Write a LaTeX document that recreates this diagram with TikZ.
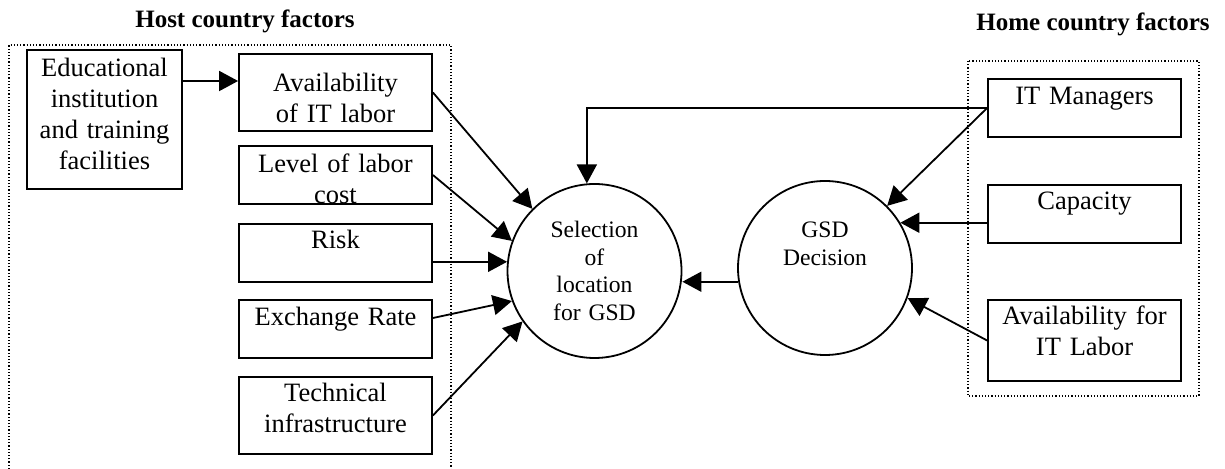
\documentclass[tikz,border=0pt]{standalone}
\usepackage{fontspec}
\setmainfont{Liberation Serif}
\usetikzlibrary{arrows.meta}
\begin{document}
\begin{tikzpicture}[x=0.5pt,y=-0.5pt,->,>={Triangle[length=9.5pt,width=10pt]},line width=0.9pt,
    factor node/.style={rectangle,draw,font=\fontsize{13.25}{15.5}\selectfont,text width=92.5pt,align=center,inner sep=2pt},
    decision node/.style={circle,draw,minimum size=87pt,inner sep=0pt,font=\fontsize{11.8}{13.8}\selectfont,text width=62pt,align=center},
    title node/.style={font=\fontsize{12.5}{15}\selectfont\bfseries},
    frame/.style={-,densely dotted,line width=0.6pt}]
    \useasboundingbox (0,0) rectangle (1225,469);
    \node[title node] (host) at (245,21) {Host country factors};
    \node[title node] (home) at (1093,24) {Home country factors};
    \draw[frame] (9,469) -- (9,45) -- (451,45) -- (451,469);
    \draw[frame] (968,61) rectangle (1199,396);
    \node[factor node,text width=73.5pt,text height=11.5pt,text depth=54pt] (1) at (104.5,119.5) {Educational\\institution\\and training\\facilities};
    \node[factor node,text height=17pt,text depth=17.5pt] (2) at (335.5,92.5) {Availability\\of IT labor};
    \node[factor node,text height=11.5pt,text depth=13.5pt] (3) [below of=2,node distance=41.25pt] {Level of labor\\cost};
    \node[factor node,text height=10.5pt,text depth=14.5pt] (4) [below of=3,node distance=39pt] {Risk};
    \node[factor node,text height=11pt,text depth=14pt] (5) [below of=4,node distance=38pt] {Exchange Rate};
    \node[factor node,text height=10.5pt,text depth=24pt] (6) [below of=5,node distance=43.25pt] {Technical\\infrastructure};
    \node[decision node] (7) at (594.5,271) {Selection\\of\\location\\for GSD};
    \node[decision node,text height=8pt,text depth=38pt] (8) at (825,268) {GSD\\Decision};
    \node[factor node,text height=11pt,text depth=14pt] (9) at (1084.5,108) {IT Managers};
    \node[factor node,text height=10.5pt,text depth=14.5pt] (10) [below of=9,node distance=53pt] {Capacity};
    \node[factor node,text height=10.5pt,text depth=26pt] (11) [below of=10,node distance=63.25pt] {Availability for\\IT Labor};
    \draw ([yshift=19.25pt]1.east) -- ([yshift=19.25pt]1.east -| 2.west);
    \draw (2.east) -- (7.135);
    \draw (3.east) -- (7.160);
    \draw (7.174 -| 4.east) -- (7.174);
    \draw ([yshift=5.5pt]5.east) -- (7.200);
    \draw (6.east) -- (7.215);
    \draw (8.189) -- (8.189 -| 7.east);
    \draw (9.west) -| (7.95);
    \draw (9.west) -- (8.45);
    \draw (8.31 -| 10.west) -- (8.31);
    \draw (11.west) -- (8.340);
\end{tikzpicture}
\end{document}
